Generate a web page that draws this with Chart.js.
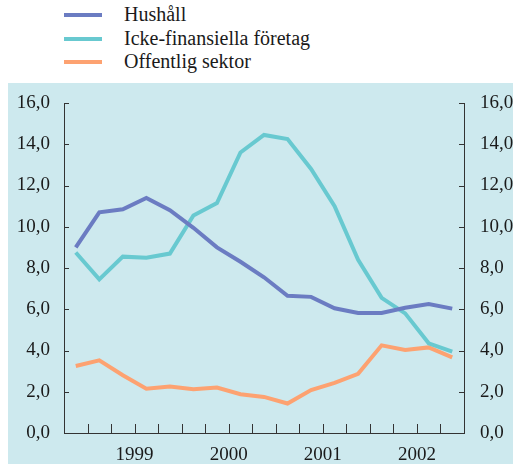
<!DOCTYPE html>
<html>
<head>
<meta charset="utf-8">
<script src="https://cdn.jsdelivr.net/npm/chart.js@4"></script>
<style>
  body { margin: 0; background: #fff; width: 513px; height: 464px; position: relative; overflow: hidden; }
  #legend { position: absolute; left: 64px; top: 3px; font-family: "Liberation Serif", "DejaVu Serif", serif; font-size: 20px; color: #1a1a1a; }
  #legend div { height: 23.5px; line-height: 23.5px; position: relative; padding-left: 60px; }
  #legend span { position: absolute; left: 0; top: 10px; width: 38px; height: 4px; }
  #panel { position: absolute; left: 8px; top: 83px; width: 505px; height: 381px; background: #cde9ee; }
</style>
</head>
<body>
<div id="legend"></div>
<div id="panel"><canvas id="chart" width="505" height="381"></canvas></div>
<script>
// kvartal: Q4 1998 .. Q4 2002
const quarters = ["1998K4","1999K1","1999K2","1999K3","1999K4","2000K1","2000K2","2000K3","2000K4",
  "2001K1","2001K2","2001K3","2001K4","2002K1","2002K2","2002K3","2002K4"];
const yearLabels = { "2.5": "1999", "6.5": "2000", "10.5": "2001", "14.5": "2002" };

const hushall = [9.0, 10.7, 10.85, 11.4, 10.8, 9.95, 9.0, 8.3, 7.55, 6.65, 6.6, 6.05, 5.82, 5.82, 6.07, 6.25, 6.03];
const ickeFinansiella = [8.75, 7.45, 8.55, 8.5, 8.7, 10.55, 11.15, 13.6, 14.45, 14.25, 12.8, 11.0, 8.4, 6.55, 5.8, 4.35, 3.95];
const offentlig = [3.25, 3.52, 2.8, 2.15, 2.25, 2.12, 2.2, 1.88, 1.75, 1.43, 2.08, 2.43, 2.87, 4.25, 4.03, 4.15, 3.67];

const series = [
  { label: "Hushåll", data: hushall, color: "#6b7cc2" },
  { label: "Icke-finansiella företag", data: ickeFinansiella, color: "#68c9d0" },
  { label: "Offentlig sektor", data: offentlig, color: "#fda271" },
];

// html legend
const legendEl = document.getElementById("legend");
series.forEach(s => {
  const row = document.createElement("div");
  row.innerHTML = '<span style="background:' + s.color + '"></span>' + s.label;
  legendEl.appendChild(row);
});

const fmt = v => v.toFixed(1).replace(".", ",");
const tickFont = { family: "'Liberation Serif', 'DejaVu Serif', serif", size: 19 };

// draws the small inward tick marks
const inwardTicks = {
  id: "inwardTicks",
  afterDraw(chart) {
    const ctx = chart.ctx;
    const { x, y, yRight } = chart.scales;
    ctx.save();
    ctx.strokeStyle = "#333";
    ctx.lineWidth = 1;
    ctx.beginPath();
    y.ticks.forEach(t => {
      const py = Math.round(y.getPixelForValue(t.value)) + 0.5;
      ctx.moveTo(y.right, py); ctx.lineTo(y.right + 5, py);
      ctx.moveTo(yRight.left, py); ctx.lineTo(yRight.left - 5, py);
    });
    x.ticks.forEach(t => {
      const px = Math.round(x.getPixelForValue(t.value)) + 0.5;
      ctx.moveTo(px, x.top); ctx.lineTo(px, x.top - 9);
    });
    ctx.stroke();
    ctx.restore();
  }
};

new Chart(document.getElementById("chart"), {
  type: "line",
  data: {
    datasets: series.map(s => ({
      label: s.label,
      data: s.data.map((v, i) => ({ x: i, y: v })),
      borderColor: s.color,
      borderWidth: 4,
      pointRadius: 0,
      tension: 0,
      fill: false,
    })),
  },
  options: {
    responsive: false,
    animation: false,
    layout: { padding: { top: 20, left: 0, right: 0, bottom: 0 } },
    plugins: { legend: { display: false }, tooltip: { enabled: false } },
    scales: {
      x: {
        type: "linear",
        min: -0.5,
        max: 16.5,
        afterBuildTicks: axis => {
          axis.ticks = quarters.concat([""]).map((q, i) => ({ value: i - 0.5 }));
        },
        afterFit: axis => { axis.height = 31; },
        grid: { display: false },
        border: { display: true, color: "#333", width: 1 },
        ticks: {
          autoSkip: false,
          maxRotation: 0,
          padding: 3,
          color: "#1a1a1a",
          font: tickFont,
          callback: v => yearLabels[String(v)] || "",
        },
      },
      y: {
        position: "left",
        min: 0,
        max: 16,
        afterFit: axis => { axis.width = 56; },
        grid: { display: false },
        border: { display: true, color: "#333", width: 1 },
        ticks: { stepSize: 2, padding: 6, color: "#1a1a1a", font: tickFont, callback: fmt },
      },
      yRight: {
        position: "right",
        min: 0,
        max: 16,
        afterFit: axis => { axis.width = 49; },
        grid: { display: false },
        border: { display: true, color: "#333", width: 1 },
        ticks: { stepSize: 2, padding: 8, color: "#1a1a1a", font: tickFont, callback: fmt },
      },
    },
  },
  plugins: [inwardTicks],
});
</script>
</body>
</html>
